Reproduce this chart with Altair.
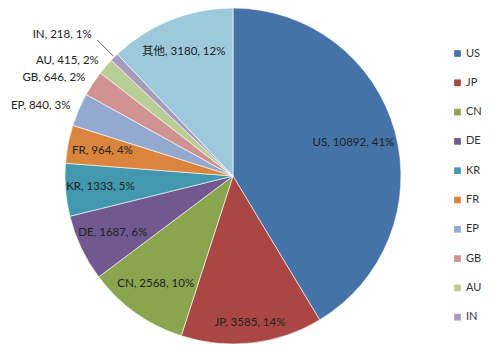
import json
import altair as alt
import pandas as pd

countries = ["US", "JP", "CN", "DE", "KR", "FR", "EP", "GB", "AU", "IN", "其他"]
counts = [10892, 3585, 2568, 1687, 1333, 964, 840, 646, 415, 218, 3180]
percents = ["41%", "14%", "10%", "6%", "5%", "4%", "3%", "2%", "2%", "1%", "12%"]
colors = ["#4572A7", "#AA4643", "#89A54E", "#71588F", "#4198AF", "#DB843D",
          "#93A9CF", "#D19392", "#B9CD96", "#A99BBD", "#9CCADC"]
legend_items = countries[:10]
outside = ["EP", "GB", "AU", "IN"]
leader = ["IN"]

df = pd.DataFrame({
    "country": countries,
    "count": counts,
    "pct": percents,
    "order": list(range(len(countries))),
})
df["label"] = df["country"] + ", " + df["count"].astype(str) + ", " + df["pct"]

FONT = "Lato, 'Noto Sans CJK SC', sans-serif"
R = 168
CX, CY = 233, 176
theta_scale = alt.Scale(domain=[0, sum(counts)], range=[0, 6.283185307])

color = alt.Color(
    "country:N",
    scale=alt.Scale(domain=countries, range=colors),
    legend=alt.Legend(
        values=legend_items, title=None, orient="none", legendX=452, legendY=48,
        symbolType="square", symbolSize=45, symbolStrokeWidth=0,
        labelFont=FONT, labelFontSize=11, labelColor="#333", rowPadding=17.3,
        labelOffset=3,
    ),
)

cx = alt.value(CX)
cy = alt.value(CY)

pie = alt.Chart(df).mark_arc(outerRadius=R, stroke="#ffffff", strokeWidth=0.6).encode(
    theta=alt.Theta("count:Q", stack=True, scale=theta_scale),
    order=alt.Order("order:Q"),
    color=color,
    x=cx, y=cy,
)

base = alt.Chart(df).transform_window(
    cum="sum(count)", sort=[alt.SortField("order")], frame=[None, 0]
).transform_calculate(
    mid="datum.cum - datum.count / 2",
    lr="datum.country == 'US' ? 125 : (datum.country == 'JP' ? 148 : 133)",
)

out_list = json.dumps(outside)
lead_list = json.dumps(leader)

inside_text = base.transform_filter(f"indexof({out_list}, datum.country) < 0").mark_text(
    font=FONT, fontSize=11.5, color="#222", align="center", baseline="middle"
).encode(
    theta=alt.Theta("mid:Q", scale=theta_scale),
    radius=alt.Radius("lr:Q", scale=None),
    text="label:N", x=cx, y=cy,
)

outside_text = base.transform_filter(
    f"indexof({out_list}, datum.country) >= 0 && indexof({lead_list}, datum.country) < 0"
).mark_text(
    radius=177, font=FONT, fontSize=11.5, color="#222", align="right", baseline="middle"
).encode(theta=alt.Theta("mid:Q", scale=theta_scale), text="label:N", x=cx, y=cy)

lead_text = base.transform_filter(f"indexof({lead_list}, datum.country) >= 0").mark_text(
    radius=200, font=FONT, fontSize=11.5, color="#222", align="right", baseline="middle"
).encode(theta=alt.Theta("mid:Q", scale=theta_scale), text="label:N", x=cx, y=cy)

lead_line = base.transform_filter(f"indexof({lead_list}, datum.country) >= 0").mark_arc(
    radius=170, radius2=192, stroke="#777", strokeWidth=1, fillOpacity=0
).encode(
    theta=alt.Theta("mid:Q", scale=theta_scale),
    theta2="mid:Q",
    x=cx, y=cy,
)

chart = alt.layer(pie, inside_text, outside_text, lead_text, lead_line).properties(
    width=500, height=356, padding=0, autosize="none", background="#ffffff"
).configure_view(stroke=None)

chart.save("out.html", embed_options={"renderer": "svg", "actions": False})
